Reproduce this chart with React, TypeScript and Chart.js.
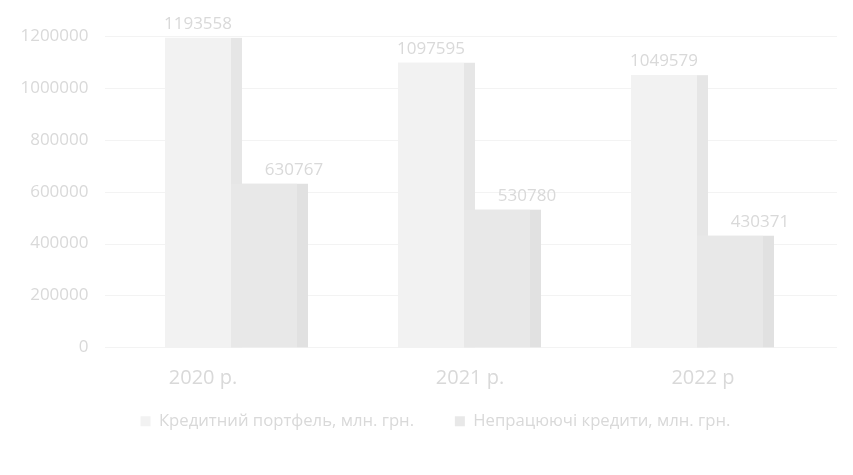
import React, { useEffect, useRef } from "react";
import { Chart, registerables } from "chart.js";

Chart.register(...registerables);

const categories = ["2020 р.", "2021 р.", "2022 р"];
const seriesNames = ["Кредитний портфель, млн. грн.", "Непрацюючі кредити, млн. грн."];
const creditPortfolio = [1193558, 1097595, 1049579];
const nonPerformingLoans = [630767, 530780, 430371];
const yMax = 1200000;
const yStep = 200000;

const FRONT = ["#f2f2f2", "#e8e8e8"];
const SIDE = ["#e6e6e6", "#e1e1e1"];
const TEXT = "#d9d9d9";
const FONT = "'Open Sans', sans-serif";
const SIDE_W = 11;
const LABEL_DX = [0, 30];
const CAT_LABEL_DX = [-28, 6, 6];

// Redraw bars in dataset order so each bar's 3D side sits behind the next bar.
const barPlugin = {
  id: "bars3d",
  afterDatasetsDraw(chart: any) {
    const ctx = chart.ctx;
    ctx.save();
    chart.data.datasets.forEach((_ds: any, i: number) => {
      const meta = chart.getDatasetMeta(i);
      meta.data.forEach((el: any) => {
        const left = el.x - el.width / 2;
        const right = el.x + el.width / 2;
        ctx.fillStyle = FRONT[i];
        ctx.fillRect(left, el.y, el.width, el.base - el.y);
        ctx.fillStyle = SIDE[i];
        ctx.fillRect(right, el.y, SIDE_W, el.base - el.y);
      });
    });
    ctx.restore();
  },
};

const gridPlugin = {
  id: "grid3d",
  beforeDatasetsDraw(chart: any) {
    const ctx = chart.ctx;
    const y = chart.scales.y;
    const { left, right } = chart.chartArea;
    ctx.save();
    ctx.strokeStyle = "#f3f3f3";
    ctx.lineWidth = 1;
    y.ticks.forEach((t: any) => {
      const py = Math.round(y.getPixelForValue(t.value)) + 0.5;
      ctx.beginPath();
      ctx.moveTo(left - 9.5, py);
      ctx.lineTo(right + 23.5, py);
      ctx.stroke();
    });
    ctx.restore();
  },
};

const labelPlugin = {
  id: "valueLabels",
  afterDatasetsDraw(chart: any) {
    const ctx = chart.ctx;
    ctx.save();
    ctx.font = `17px ${FONT}`;
    ctx.fillStyle = TEXT;
    ctx.textAlign = "center";
    ctx.textBaseline = "middle";
    chart.data.datasets.forEach((ds: any, i: number) => {
      const meta = chart.getDatasetMeta(i);
      meta.data.forEach((el: any, j: number) => {
        ctx.fillText(String(ds.data[j]), el.x + LABEL_DX[i], el.y - 14);
      });
    });
    // category labels (perspective-shifted like the original)
    const x = chart.scales.x;
    ctx.font = `20px ${FONT}`;
    chart.data.labels.forEach((lab: string, i: number) => {
      ctx.fillText(lab, x.getPixelForValue(i) + CAT_LABEL_DX[i], x.top + 31);
    });
    ctx.restore();
  },
};

export default function App() {
  const ref = useRef<HTMLCanvasElement>(null);
  useEffect(() => {
    document.body.style.margin = "0";
    document.body.style.background = "#ffffff";
    const chart = new Chart(ref.current!, {
      type: "bar",
      data: {
        labels: categories,
        datasets: [
          { label: seriesNames[0] + "\u2003\u2002\u2009", data: creditPortfolio, backgroundColor: FRONT[0] },
          { label: seriesNames[1], data: nonPerformingLoans, backgroundColor: FRONT[1] },
        ],
      },
      options: {
        animation: false,
        responsive: false,
        maintainAspectRatio: false,
        datasets: { bar: { categoryPercentage: 132 / 233, barPercentage: 1 } },
        layout: { padding: { left: 18, right: 0, top: 33.5, bottom: 35.5 } },
        scales: {
          x: {
            grid: { display: false, drawTicks: false },
            border: { display: false },
            ticks: { display: false },
            afterFit(scale: any) {
              scale.height = 52.5;
            },
          },
          y: {
            min: 0,
            max: yMax,
            ticks: {
              stepSize: yStep,
              color: TEXT,
              font: { family: FONT, size: 17 },
              padding: 26,
              callback: (v: any) => String(v),
            },
            grid: { display: false, drawTicks: false },
            border: { display: false },
            afterFit(scale: any) {
              scale.width = 96.5;
            },
          },
          yR: {
            position: "right",
            display: true,
            ticks: { display: false },
            grid: { display: false, drawTicks: false },
            border: { display: false },
            afterFit(scale: any) {
              scale.width = 39.5;
            },
          },
        },
        plugins: {
          legend: {
            position: "bottom",
            labels: {
              color: TEXT,
              font: { family: FONT, size: 16.7 },
              boxWidth: 10,
              boxHeight: 10,
              padding: 13,
            },
          },
          tooltip: { enabled: false },
        },
      },
      plugins: [gridPlugin, barPlugin, labelPlugin],
    });
    return () => chart.destroy();
  }, []);
  return <canvas ref={ref} width={853} height={475} style={{ display: "block", width: 853, height: 475 }} />;
}
